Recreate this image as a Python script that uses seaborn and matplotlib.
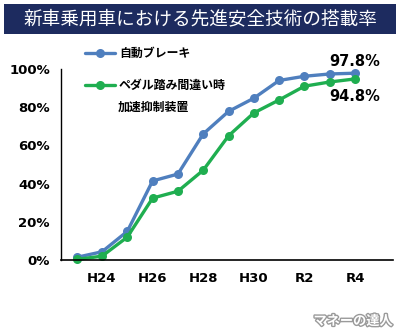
import matplotlib
matplotlib.use("Agg")
import matplotlib.pyplot as plt
import matplotlib.patheffects as pe
from matplotlib.patches import Rectangle
from matplotlib.lines import Line2D
import seaborn as sns
import pandas as pd

# Fiscal years H23 .. R4
years = ["H23", "H24", "H25", "H26", "H27", "H28", "H29", "H30", "R1", "R2", "R3", "R4"]
auto_brake = [1.4, 4.3, 15.0, 41.4, 45.0, 66.0, 77.8, 84.7, 94.0, 96.2, 97.4, 97.8]
pedal_guard = [0.3, 2.0, 12.0, 32.4, 36.0, 47.0, 65.0, 77.0, 83.8, 91.0, 93.2, 94.8]
tick_years = ["H24", "H26", "H28", "H30", "R2", "R4"]

series_names = ["自動ブレーキ", "ペダル踏み間違い時"]
colors = {"自動ブレーキ": "#4f7fbe", "ペダル踏み間違い時": "#1fae50"}

df = pd.DataFrame({
    "idx": list(range(len(years))) * 2,
    "rate": auto_brake + pedal_guard,
    "series": [series_names[0]] * len(years) + [series_names[1]] * len(years),
})

sns.set_theme(style="white")
jp = ["Noto Sans CJK JP", "DejaVu Sans"]
plt.rcParams["font.family"] = jp
plt.rcParams["text.color"] = "black"

W, H = 400, 336
fig = plt.figure(figsize=(W / 100, H / 100), dpi=100)
fig.patch.set_facecolor("white")

# title banner
fig.patches.append(Rectangle((4 / W, 1 - 34 / H), 392 / W, 30 / H,
                             transform=fig.transFigure, facecolor="#1d2b5f",
                             edgecolor="none"))
fig.text(200 / W, 1 - 19.5 / H, "新車乗用車における先進安全技術の搭載率",
         color="white", fontsize=13.4, ha="center", va="center", family=jp)

ax = fig.add_axes([61 / W, 1 - 260 / H, 332 / W, 191 / H])
sns.lineplot(data=df, x="idx", y="rate", hue="series", palette=colors,
             marker="o", markersize=6.5, markeredgewidth=0, linewidth=2.4,
             ax=ax, legend=False)

ax.set_xlim(-0.62, 12.5)
ax.set_ylim(0, 100)
ax.set_yticks([0, 20, 40, 60, 80, 100])
ax.set_yticklabels([f"{v}%" for v in [0, 20, 40, 60, 80, 100]],
                   fontsize=9.5, fontweight="bold", family="DejaVu Sans",
                   color="black")
ax.set_xticks([years.index(t) for t in tick_years])
ax.set_xticklabels(tick_years, fontsize=9.5, fontweight="bold",
                   family="DejaVu Sans", color="black")
ax.tick_params(axis="y", direction="out", length=5, width=1, color="black", pad=3)
ax.tick_params(axis="x", length=0, pad=9)
ax.set_xlabel("")
ax.set_ylabel("")
for side in ["top", "right"]:
    ax.spines[side].set_visible(False)
for side in ["left", "bottom"]:
    ax.spines[side].set_color("black")
ax.spines["bottom"].set_linewidth(1.2)
ax.spines["left"].set_linewidth(1.0)
for ln in ax.lines:
    ln.set_clip_on(False)

# end value labels
last = len(years) - 1
ax.annotate(f"{auto_brake[-1]}%", (last, auto_brake[-1]), xytext=(0, 3),
            textcoords="offset points", ha="center", va="bottom",
            fontsize=10.5, fontweight="bold", family="DejaVu Sans", color="black")
ax.annotate(f"{pedal_guard[-1]}%", (last, pedal_guard[-1]), xytext=(0, -7),
            textcoords="offset points", ha="center", va="top",
            fontsize=10.5, fontweight="bold", family="DejaVu Sans", color="black")

# legend
handles = [Line2D([], [], color=colors[n], marker="o", markersize=6.5,
                  markeredgewidth=0, linewidth=2.4) for n in series_names]
leg = fig.legend(handles, series_names, loc="upper left",
                 bbox_to_anchor=(85 / W, 1 - 47 / H), frameon=False,
                 borderpad=0, borderaxespad=0, handlelength=2.5,
                 handletextpad=0.35, labelspacing=1.6,
                 prop={"family": jp, "weight": "bold", "size": 8.6})
for t in leg.get_texts():
    t.set_color("black")
fig.text(118 / W, 1 - 107.5 / H, "加速抑制装置", fontsize=8.6, fontweight="bold",
         ha="left", va="center", family=jp, color="black")

# site mark
fig.text(393 / W, 1 - 321 / H, "マネーの達人", fontsize=9.5, fontweight="bold",
         ha="right", va="center", color="white", family=jp,
         path_effects=[pe.withStroke(linewidth=2, foreground="#9a9a9a")])

fig.savefig("out.png", dpi=100)
